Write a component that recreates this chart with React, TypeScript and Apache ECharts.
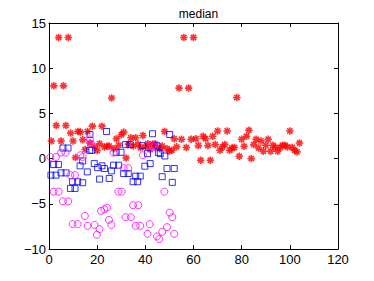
import React, { useEffect, useRef } from "react";
import * as echarts from "echarts";

const xTicks = [0, 20, 40, 60, 80, 100, 120];
const yTicks = [-10, -5, 0, 5, 10, 15];

const redY = [
  1.94, 8.05, 3.66, 13.4, 1.94, 8.05, 3.66, 13.4, 2.82, 1.94,
  0.11, 3.0, 2.93, 2.09, 1.0, 3.0, 1.72, 3.59, 1.28, 0.9,
  1.65, 3.59, 1.28, 1.36, 1.39, 6.7, 1.1, 2.2, 1.47, 2.64,
  2.93, 0.07, 1.6, 2.3, 1.4, 2.3, 1.58, 1.2, 2.56, 1.3,
  1.65, 1.0, 1.58, 1.65, 1.2, 1.1, 1.4, 3.0, 1.1, 0.8,
  0.92, 2.2, 1.3, 7.8, 2.14, 13.4, 1.22, 7.8, 2.14, 13.4,
  2.2, 1.44, -0.18, 2.47, 2.2, 1.44, -0.18, 2.47, 1.55, 3.06,
  0.92, 1.29, 1.55, 3.06, 0.92, 1.18, 1.22, 6.75, 0.26, 2.14,
  1.37, 2.47, 3.14, 0.0, 1.55, 2.14, 1.18, 1.96, 0.81, 1.48,
  2.14, 0.81, 1.48, 1.22, 0.81, 1.22, 1.48, 1.48, 1.29, 3.06,
  1.22, 0.92, 0.74, 1.73,
];

const blueX = [
  0.8, 2.9, 1.9, 3.9, 5.8, 7.9, 5, 7.1, 8.9, 10.8,
  9.8, 11.9, 14, 12.9, 14, 15.9, 17, 16.9, 17.8, 18.8,
  20.2, 21, 22, 23, 23.9, 25, 25.9, 26.8, 27.9, 28.9,
  29.9, 31.8, 31, 32.9, 33.7, 34.9, 36.8, 36, 37.9, 38.9,
  39.8, 40.9, 42, 43, 44.8, 45.4, 46.2, 47, 48.1, 49,
  50.1, 51.2, 52,
];
const blueY = [
  -1.83, -1.83, -0.66, -0.66, 1.17, 1.17, -1.58, -1.58, -3.3, -3.3,
  -2.56, -2.56, -2.67, -0.8, -0.26, -1.47, 2.67, 0.92, 0.92, -0.55,
  -1.0, -2.27, -0.8, -1.1, 3.0, -2.2, -1.36, -0.73, 0.7, -0.73,
  0.7, 1.54, -1.65, -1.65, 1.54, -2.56, -2.56, -1.94, -1.94, 1.43,
  -0.84, 0.55, -0.55, 2.75, 1.43, 0.66, 0.55, -2.0, 0.29, -1.1,
  2.67, -2.63, -1.1,
];

const magX = [
  0.6, 2.9, 5, 6.9, 1.9, 4, 5.8, 8, 8.9, 10.8,
  9.8, 11.9, 13, 14, 14.9, 16, 17, 17.4, 18.9, 19.9,
  21, 21.6, 23, 24.1, 24.9, 25.9, 26.8, 28.8, 30.2, 31,
  32.9, 31.8, 34, 34.9, 37.1, 36, 37.9, 39, 40.9, 41.8,
  43, 43.7, 44.8, 45.8, 47, 47.9, 49, 50.1, 51.2, 52,
];
const magY = [
  0.18, 0.18, 0.66, 0.66, -3.66, -3.66, -4.73, -4.73, -1.83, -1.83,
  -7.25, -7.25, 0.37, 0.18, -6.34, -7.44, 2.12, 1.65, -7.33, -8.42,
  -7.8, -5.79, -5.6, -5.42, -6.78, -7.33, 0.66, -3.66, -3.66, -1.06,
  -1.06, -6.48, -6.48, -5.16, -5.16, -7.44, -7.44, 0.37, -8.32, -7.25,
  1.47, 1.28, -8.61, -8.9, -8.1, -3.66, -7.58, -5.97, -6.48, -8.32,
];

const asterisk =
  "path://M0,-10L0,10M-10,0L10,0M-7.07,-7.07L7.07,7.07M-7.07,7.07L7.07,-7.07";

export default function App() {
  const ref = useRef<HTMLDivElement>(null);
  useEffect(() => {
    if (!ref.current) return;
    const chart = echarts.init(ref.current, undefined, { renderer: "svg" });
    const font = "Liberation Sans, Arial, sans-serif";
    const axisCommon = {
      axisLine: { show: true, onZero: false, lineStyle: { color: "#000", width: 1 } },
      axisTick: { show: true, inside: true, length: 4, lineStyle: { color: "#000" } },
      splitLine: { show: false },
    };
    const fmt = (v: number) => String(v).replace("-", "\u2212");
    chart.setOption({
      animation: false,
      backgroundColor: "#fff",
      title: {
        text: "median",
        left: 193.5,
        textAlign: "center",
        top: 3,
        textStyle: { fontFamily: font, fontSize: 12, fontWeight: "normal", color: "#000" },
      },
      grid: { left: 49, right: 36, top: 23, bottom: 32 },
      xAxis: [
        {
          type: "value",
          min: xTicks[0],
          max: xTicks[xTicks.length - 1],
          interval: 20,
          position: "bottom",
          ...axisCommon,
          axisLabel: { fontFamily: font, fontSize: 13, color: "#000", margin: 4, formatter: fmt },
        },
        {
          type: "value",
          min: xTicks[0],
          max: xTicks[xTicks.length - 1],
          interval: 20,
          position: "top",
          ...axisCommon,
          axisLabel: { show: false },
        },
      ],
      yAxis: [
        {
          type: "value",
          min: yTicks[0],
          max: yTicks[yTicks.length - 1],
          interval: 5,
          position: "left",
          ...axisCommon,
          axisLabel: { fontFamily: font, fontSize: 13, color: "#000", margin: 3, formatter: fmt },
        },
        {
          type: "value",
          min: yTicks[0],
          max: yTicks[yTicks.length - 1],
          interval: 5,
          position: "right",
          ...axisCommon,
          axisLabel: { show: false },
        },
      ],
      series: [
        {
          type: "scatter",
          data: redY.map((y, i) => [i + 1, y]),
          symbol: asterisk,
          symbolSize: 7.5,
          itemStyle: { color: "none", borderColor: "#ff0000", borderWidth: 1.6 },
        },
        {
          type: "scatter",
          data: blueX.map((x, i) => [x, blueY[i]]),
          symbol: "rect",
          symbolSize: 6,
          itemStyle: { color: "none", borderColor: "#0000ff", borderWidth: 1 },
        },
        {
          type: "scatter",
          data: magX.map((x, i) => [x, magY[i]]),
          symbol: "circle",
          symbolSize: 7,
          itemStyle: { color: "none", borderColor: "#ff00ff", borderWidth: 1 },
        },
      ],
    });
    return () => chart.dispose();
  }, []);
  return <div ref={ref} style={{ width: 374, height: 281, position: "absolute", left: 0, top: 0 }} />;
}
